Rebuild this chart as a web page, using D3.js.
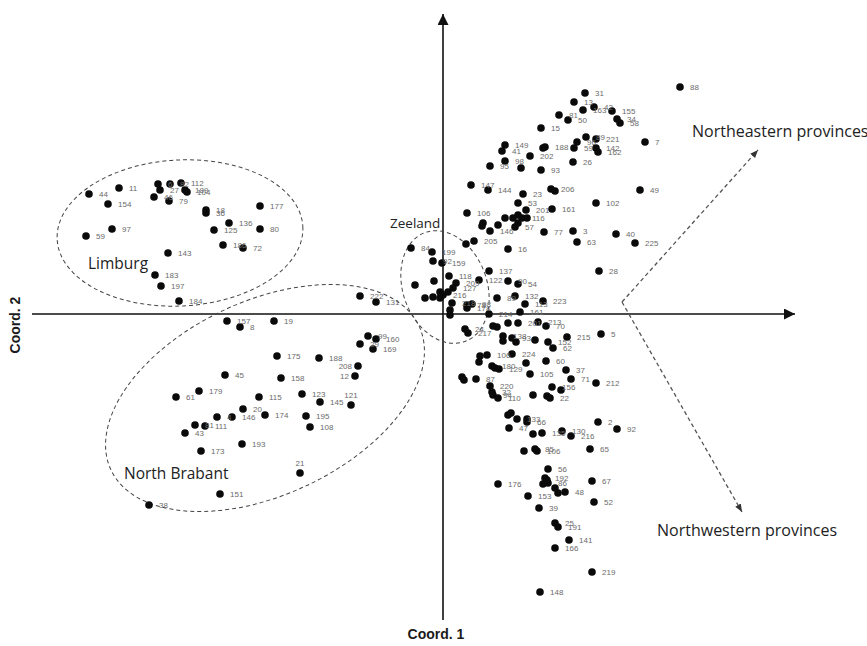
<!DOCTYPE html>
<html>
<head>
<meta charset="utf-8">
<script src="https://cdn.jsdelivr.net/npm/d3@7"></script>
<style>
  body { margin: 0; background: #fff; }
  svg { display: block; }
  .lbl { font-family: "Liberation Sans", Arial, sans-serif; font-size: 8px; fill: #6b6b6b; }
  .region { font-family: "Open Sans", sans-serif; font-size: 15.5px; fill: #222; }
  .region.small { font-size: 13.5px; }
  .region.wide { font-size: 16px; }
  .axis-title { font-family: "Liberation Sans", Arial, sans-serif; font-size: 14px; font-weight: bold; fill: #1a1a1a; }
</style>
</head>
<body>
<svg id="chart" width="867" height="646"></svg>
<script>
// [id, coord1, coord2]
var limburg = [
  ["44",-3.54,1.20],["11",-3.24,1.26],["154",-3.35,1.10],["97",-3.31,0.85],["59",-3.57,0.78],
  ["6",-2.85,1.30],["27",-2.83,1.24],["46",-2.89,1.17],["82",-2.73,1.30],["112",-2.62,1.31],
  ["189",-2.58,1.24],["104",-2.56,1.22],["79",-2.74,1.13],["18",-2.37,1.04],["36",-2.37,1.01],
  ["136",-2.14,0.91],["125",-2.29,0.84],["177",-1.83,1.08],["80",-1.83,0.85],["186",-2.20,0.69],
  ["72",-2.00,0.66],["143",-2.75,0.61],["183",-2.88,0.39],["197",-2.82,0.28],["184",-2.64,0.13]
];

var brabant = [
  ["157",-2.16,-0.07],["8",-2.03,-0.13],["19",-1.69,-0.07],["99",-0.75,-0.22],["160",-0.67,-0.25],
  ["29",-0.83,-0.30],["169",-0.70,-0.35],["175",-1.66,-0.42],["188",-1.24,-0.44],["208",-0.85,-0.52],
  ["12",-0.88,-0.62],["45",-2.18,-0.61],["158",-1.62,-0.64],["179",-2.44,-0.77],["61",-2.67,-0.83],
  ["115",-1.84,-0.83],["123",-1.41,-0.80],["145",-1.23,-0.88],["121",-0.92,-0.91],["20",-2.00,-0.95],
  ["174",-1.78,-1.01],["195",-1.37,-1.02],["108",-1.33,-1.13],["4",-2.26,-1.03],["146",-2.11,-1.03],
  ["81",-2.48,-1.11],["111",-2.38,-1.12],["43",-2.58,-1.19],["193",-2.01,-1.30],["173",-2.42,-1.37],
  ["21",-1.43,-1.59],["151",-2.23,-1.80],["38",-2.94,-1.91]
];

var zeeland = [
  ["222",-0.83,0.18],["131",-0.67,0.12],["84",-0.32,0.66],["199",-0.11,0.62],["92",-0.10,0.53],
  ["159",-0.01,0.51],["118",0.06,0.38],["",-0.28,0.29],["",-0.09,0.33],["209",0.13,0.31],
  ["",-0.03,0.22],["216",0.00,0.19],["",0.05,0.22],["127",0.10,0.26],["",-0.18,0.16],
  ["",-0.10,0.17],["",-0.03,0.16],["218",0.09,0.11],["",0.07,0.04],["",0.07,-0.01],
  ["78",0.24,0.09],["98",0.29,0.10],["178",0.24,0.06],["24",0.22,-0.15],["217",0.25,-0.19]
];

var central = [
  ["",0.23,0.70],["205",0.31,0.73],["16",0.65,0.65],["137",0.46,0.43],["122",0.36,0.34],
  ["90",0.65,0.33],["54",0.75,0.30],["89",0.54,0.16],["132",0.72,0.18],["113",0.82,0.10],
  ["223",1.00,0.13],["214",0.46,0.00],["161",0.77,0.02],["",0.50,-0.12],["",0.54,-0.13],
  ["",0.65,-0.09],["201",0.75,-0.09],["213",0.95,-0.08],["70",1.03,-0.12],["215",1.24,-0.23],
  ["5",1.58,-0.20],["138",0.60,-0.22],["",0.60,-0.27],["93",0.69,-0.24],["",0.73,-0.28],
  ["",0.92,-0.26],["152",1.05,-0.28],["62",1.10,-0.34],["",0.37,-0.42],["106",0.44,-0.41],
  ["",0.36,-0.48],["224",0.69,-0.40],["60",1.03,-0.47],["",0.83,-0.49],["180",0.49,-0.52],
  ["",0.52,-0.54],["129",0.56,-0.55],["37",1.23,-0.56],["105",0.87,-0.60],["71",1.28,-0.65],
  ["212",1.53,-0.69],["",0.19,-0.63],["",0.21,-0.66],["87",0.33,-0.65],["220",0.47,-0.72],
  ["32",0.49,-0.78],["94",0.50,-0.81],["110",0.55,-0.84],["",0.90,-0.81],["",1.04,-0.82],
  ["22",1.07,-0.84],["156",1.09,-0.73],["",1.18,-0.76]
];

var south = [
  ["",0.65,-1.01],["",0.68,-0.99],["133",0.74,-1.05],["",0.84,-1.05],["66",0.84,-1.08],
  ["47",0.66,-1.14],["",0.90,-1.20],["135",0.99,-1.19],["130",1.19,-1.17],["216",1.28,-1.22],
  ["2",1.55,-1.08],["92",1.74,-1.15],["",0.81,-1.37],["85",0.92,-1.35],["106",0.94,-1.37],
  ["65",1.47,-1.35],["56",1.05,-1.55],["67",1.49,-1.67],["176",0.55,-1.70],["192",1.02,-1.64],
  ["",1.00,-1.70],["86",1.05,-1.69],["",1.04,-1.66],["",1.12,-1.74],["",1.15,-1.79],
  ["48",1.22,-1.78],["153",0.85,-1.82],["52",1.51,-1.88],["39",0.96,-1.94],["25",1.12,-2.09],
  ["191",1.15,-2.13],["141",1.26,-2.26],["166",1.12,-2.34],["219",1.49,-2.58],["148",0.97,-2.78]
];

var north = [
  ["31",1.42,2.21],["13",1.31,2.12],["42",1.51,2.07],["163",1.40,2.04],["50",1.25,1.94],
  ["81",1.16,1.99],["155",1.69,2.03],["34",1.74,1.95],["58",1.77,1.91],["15",0.98,1.86],
  ["89",1.43,1.77],["221",1.53,1.75],["7",2.02,1.72],["96",1.34,1.72],["59",1.31,1.66],
  ["142",1.53,1.66],["162",1.55,1.62],["",1.00,1.66],["188",1.02,1.67],["149",0.62,1.69],
  ["41",0.59,1.63],["202",0.87,1.58],["98",0.62,1.53],["95",0.47,1.48],["",0.78,1.46],
  ["93",0.98,1.44],["26",1.30,1.52],["88",2.37,2.27],["147",0.28,1.29],["144",0.45,1.24],
  ["23",0.80,1.20],["206",1.08,1.25],["",1.12,1.23],["49",1.97,1.24],["53",0.75,1.11],
  ["201",0.83,1.04],["161",1.09,1.05],["102",1.53,1.11],["106",0.24,1.01],["",0.62,0.96],
  ["",0.70,0.96],["",0.75,0.99],["116",0.79,0.96],["",0.84,0.96],["",0.40,0.91],
  ["",0.39,0.88],["",0.55,0.89],["146",0.47,0.83],["57",0.72,0.87],["",0.75,0.91],
  ["77",1.01,0.82],["3",1.30,0.83],["63",1.34,0.72],["40",1.73,0.80],["225",1.92,0.71],
  ["28",1.56,0.43]
];

// group outlines: [cx, cy, rx, ry, angle]
var outlines = [
  [-2.63, 0.81, 1.23, 0.73, -3],
  [-1.78, -0.84, 1.70, 0.97, -25],
  [0.02, 0.27, 0.42, 0.58, -20]
];

// region names: [text, coord1, coord2]
var regions = [
  ["Limburg", -3.55, 0.45],
  ["North Brabant", -3.19, -1.65],
  ["Zeeland", -0.53, 0.86],
  ["Northeastern provinces", 2.49, 1.77],
  ["Northwestern provinces", 2.14, -2.22]
];

// direction arrows: [from1, from2, to1, to2]
var directions = [
  [1.79, 0.12, 3.15, 1.64],
  [1.79, 0.12, 2.99, -1.98]
];

var leftLabels = ["208", "12"];
var topLabels = ["21", "121"];

var svg = d3.select("#chart");

var x = d3.scaleLinear().domain([-4.11, 3.52]).range([32, 795]);
var y = d3.scaleLinear().domain([-3.06, 3.0]).range([620, 14]);

var defs = svg.append("defs");
defs.append("marker")
  .attr("id", "head")
  .attr("viewBox", "0 0 10 10")
  .attr("refX", 10).attr("refY", 5)
  .attr("markerWidth", 11).attr("markerHeight", 11)
  .attr("markerUnits", "userSpaceOnUse")
  .attr("orient", "auto")
  .append("path").attr("d", "M0,0L10,5L0,10z").attr("fill", "#111");
defs.append("marker")
  .attr("id", "dhead")
  .attr("viewBox", "0 0 10 10")
  .attr("refX", 10).attr("refY", 5)
  .attr("markerWidth", 8).attr("markerHeight", 8)
  .attr("markerUnits", "userSpaceOnUse")
  .attr("orient", "auto")
  .append("path").attr("d", "M0,1L10,5L0,9z").attr("fill", "#333");

// axes
svg.append("line")
  .attr("x1", x.range()[0]).attr("x2", x.range()[1])
  .attr("y1", y(0)).attr("y2", y(0))
  .attr("stroke", "#111").attr("stroke-width", 1.6)
  .attr("marker-end", "url(#head)");
svg.append("line")
  .attr("x1", x(0)).attr("x2", x(0))
  .attr("y1", y.range()[0]).attr("y2", y.range()[1])
  .attr("stroke", "#111").attr("stroke-width", 1.6)
  .attr("marker-end", "url(#head)");

svg.append("text").attr("class", "axis-title")
  .attr("x", x(0) - 7).attr("y", 639)
  .attr("text-anchor", "middle")
  .text("Coord. 1");
svg.append("text").attr("class", "axis-title")
  .attr("transform", "translate(20," + y(-0.11) + ") rotate(-90)")
  .attr("text-anchor", "middle")
  .text("Coord. 2");

// dashed outlines
svg.selectAll(".outline")
  .data(outlines)
  .enter().append("ellipse")
  .attr("class", "outline")
  .attr("cx", 0).attr("cy", 0)
  .attr("rx", function(d) { return x(d[2]) - x(0); })
  .attr("ry", function(d) { return y(0) - y(d[3]); })
  .attr("transform", function(d) {
    return "translate(" + x(d[0]) + "," + y(d[1]) + ") rotate(" + d[4] + ")";
  })
  .attr("fill", "none")
  .attr("stroke", "#444")
  .attr("stroke-width", 1)
  .attr("stroke-dasharray", "4,3");

svg.selectAll(".dir")
  .data(directions)
  .enter().append("line")
  .attr("class", "dir")
  .attr("x1", function(d) { return x(d[0]); })
  .attr("y1", function(d) { return y(d[1]); })
  .attr("x2", function(d) { return x(d[2]); })
  .attr("y2", function(d) { return y(d[3]); })
  .attr("stroke", "#555")
  .attr("stroke-width", 1.3)
  .attr("stroke-dasharray", "4,3")
  .attr("marker-end", "url(#dhead)");

var all = limburg.concat(brabant, zeeland, central, south, north);

svg.selectAll(".pt")
  .data(all)
  .enter().append("circle")
  .attr("class", "pt")
  .attr("cx", function(d) { return x(d[1]); })
  .attr("cy", function(d) { return y(d[2]); })
  .attr("r", 3.8)
  .attr("fill", "#0a0a0a");

svg.selectAll(".lbl")
  .data(all.filter(function(d) { return d[0] !== ""; }))
  .enter().append("text")
  .attr("class", "lbl")
  .attr("x", function(d) {
    if (leftLabels.indexOf(d[0]) >= 0) return x(d[1]) - 6;
    if (topLabels.indexOf(d[0]) >= 0) return x(d[1]);
    return x(d[1]) + 10;
  })
  .attr("y", function(d) {
    if (topLabels.indexOf(d[0]) >= 0) return y(d[2]) - 7;
    return y(d[2]) + 3;
  })
  .attr("text-anchor", function(d) {
    if (leftLabels.indexOf(d[0]) >= 0) return "end";
    if (topLabels.indexOf(d[0]) >= 0) return "middle";
    return "start";
  })
  .text(function(d) { return d[0]; });

svg.selectAll(".region")
  .data(regions)
  .enter().append("text")
  .attr("class", function(d) {
    if (d[0] === "Zeeland") return "region small";
    if (d[0].indexOf("provinces") >= 0) return "region wide";
    return "region";
  })
  .attr("x", function(d) { return x(d[1]); })
  .attr("y", function(d) { return y(d[2]); })
  .text(function(d) { return d[0]; });
</script>
</body>
</html>
